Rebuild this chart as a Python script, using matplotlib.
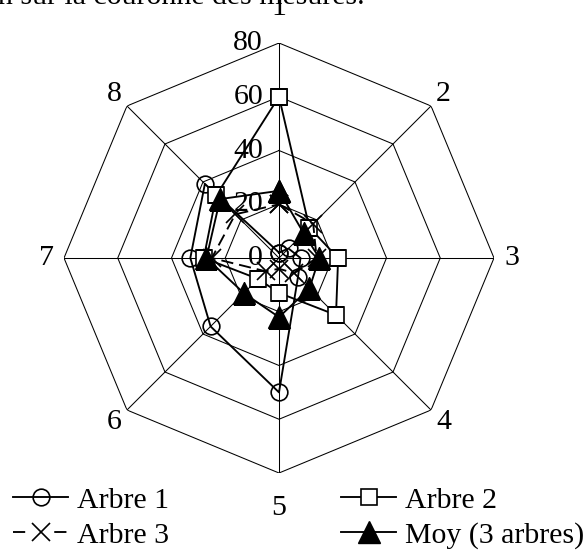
import numpy as np
import matplotlib.pyplot as plt
from matplotlib.lines import Line2D

plt.rcParams['font.family'] = ['Liberation Serif', 'DejaVu Serif']

# positions around the crown (clockwise from top)
positions = ['1', '2', '3', '4', '5', '6', '7', '8']
ticks = [0, 20, 40, 60, 80]

arbre1 = [2, 5, 8, 10, 50, 36, 33, 39]
arbre2 = [60, 16, 22, 30, 13, 11, 28, 33]
arbre3 = [20, 18, 14, 8, 4, 7, 25, 23]
moy = [25, 13, 15, 16, 22, 18.5, 27, 31]

angles = np.linspace(0, 2 * np.pi, len(positions), endpoint=False)
closed = np.append(angles, angles[0])


def close(v):
    return list(v) + [v[0]]


fig = plt.figure(figsize=(5.87, 5.5), dpi=100)
ax = fig.add_axes([64 / 587, 77 / 550, 430 / 587, 430 / 550], projection='polar')
ax.set_theta_zero_location('N')
ax.set_theta_direction(-1)
ax.set_ylim(0, 80)
ax.grid(False)
ax.spines['polar'].set_visible(False)
ax.set_xticks([])
ax.set_yticks([])
ax.patch.set_visible(False)

# octagonal grid
for t in ticks[1:]:
    ax.plot(closed, [t] * len(closed), color='black', lw=0.75, zorder=1)
for a in angles:
    ax.plot([a, a], [0, 80], color='black', lw=0.75, zorder=1)

# radial tick labels
for t in ticks:
    ax.annotate(str(t), xy=(0, t), xytext=(-11.5, 0), textcoords='offset points',
                ha='right', va='center', fontsize=21.5, zorder=2)

# category labels
for a, lab in zip(angles, positions):
    r = 93 if abs(np.sin(a)) < 0.1 else 86.5
    ax.text(a, r, lab, ha='center', va='center', fontsize=21.5)

lw = 1.35
ax.plot(closed, close(arbre1), color='black', lw=lw, marker='o', ms=12,
        mfc='none', mec='black', mew=1.2, zorder=3)
ax.plot(closed, close(arbre2), color='black', lw=lw, marker='s', ms=12,
        mfc='white', mec='black', mew=1.2, zorder=3)
ax.plot(closed, close(arbre3), color='black', lw=lw, marker='x', ms=13,
        mew=1.2, dashes=(6.5, 3.2), zorder=3)
ax.plot(closed, close(moy), color='black', lw=lw, marker='^', ms=16,
        mfc='black', mec='black', zorder=4)

# legend proxies
h1 = Line2D([], [], color='black', lw=lw, marker='o', ms=12, mfc='none', mew=1.2)
h2 = Line2D([], [], color='black', lw=lw, marker='s', ms=12, mfc='white', mew=1.2)
h3 = Line2D([], [], color='black', lw=lw, marker='x', ms=13, mew=1.2, dashes=(6.5, 15.5))
h4 = Line2D([], [], color='black', lw=lw, marker='^', ms=16, mfc='black')
fig.legend([h1, h3, h2, h4], ['Arbre 1', 'Arbre 3', 'Arbre 2', 'Moy (3 arbres)'],
           ncol=2, loc='upper left', bbox_to_anchor=(13 / 587, 1 - 487 / 550),
           frameon=False, fontsize=21.5, handlelength=1.85, handletextpad=0.3,
           columnspacing=5.75, labelspacing=0.27, borderpad=0, borderaxespad=0)

fig.text(365 / 587, 1 - 4 / 550, 'Variation selon la position sur la couronne des mesures.',
         ha='right', va='baseline', fontsize=21.5)

fig.savefig('out.png', dpi=100)
